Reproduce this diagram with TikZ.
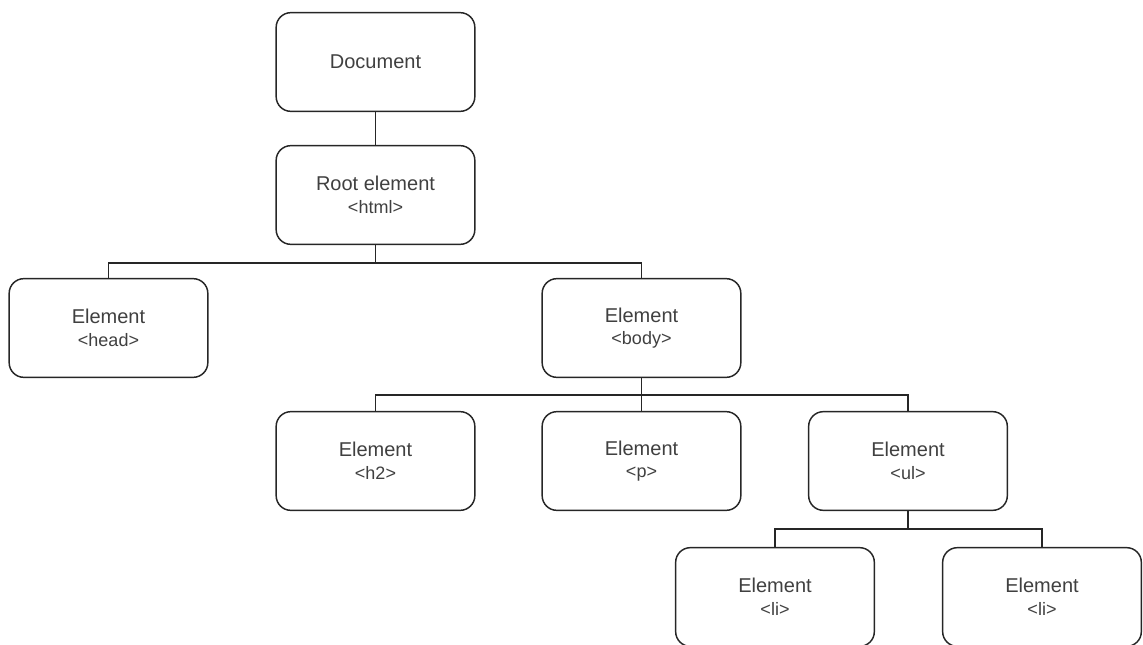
\documentclass[tikz,border=0pt]{standalone}
\usepackage{fontspec}
\setmainfont{Liberation Sans}
\begin{document}
\begin{tikzpicture}[x=0.75pt,y=-0.75pt,
  elem/.style={draw=black!85, line width=1.1pt, rounded corners=11pt,
    minimum width=149pt, minimum height=74pt, align=center,
    text=black!75, font=\fontsize{15}{18}\selectfont},
  link/.style={draw=black!85, line width=1.1pt}]
\useasboundingbox (0,0) rectangle (1143,644);
\newcommand{\twoline}[2]{#1\\[-1pt]{\fontsize{13.5}{16}\selectfont #2}}

\node[elem] (doc)  at (375.5,62)  {Document};
\node[elem] (root) at (375.5,195) {\twoline{Root element}{<html>}};
\node[elem] (head) at (108.5,328) {\twoline{Element}{<head>}};
\node[elem] (body) at (641.5,328) {\twoline{Element}{<body>}};
\node[elem] (h2)   at (375.5,461) {\twoline{Element}{<h2>}};
\node[elem] (p)    at (641.5,461) {\twoline{Element}{<p>}};
\node[elem] (ul)   at (908,461)   {\twoline{Element}{<ul>}};
\node[elem] (lia)  at (775,597)   {\twoline{Element}{<li>}};
\node[elem] (lib)  at (1042,597)  {\twoline{Element}{<li>}};

\draw[link] (doc.south) -- (root.north);
\draw[link] (root.south) -- ++(0,18) -| (head.north);
\draw[link] (root.south) -- ++(0,18) -| (body.north);
\draw[link] (body.south) -- ++(0,17) -| (h2.north);
\draw[link] (body.south) -- (p.north);
\draw[link] (body.south) -- ++(0,17) -| (ul.north);
\draw[link] (ul.south) -- ++(0,18) -| (lia.north);
\draw[link] (ul.south) -- ++(0,18) -| (lib.north);
\end{tikzpicture}
\end{document}
